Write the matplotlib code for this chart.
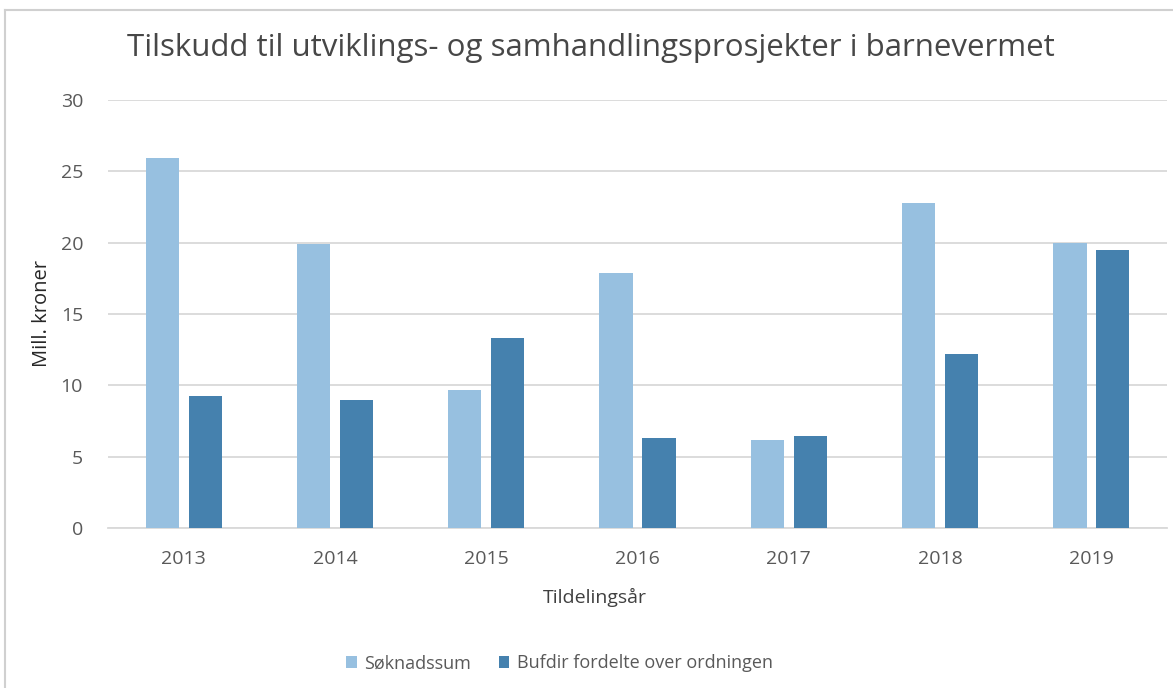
import matplotlib
matplotlib.use("Agg")
import matplotlib.pyplot as plt
import numpy as np

years = ["2013", "2014", "2015", "2016", "2017", "2018", "2019"]
soknadssum = [25.9, 19.9, 9.7, 17.9, 6.2, 22.8, 19.95]
bufdir = [9.25, 9.0, 13.3, 6.3, 6.45, 12.2, 19.45]

light = "#97c0e0"
dark = "#4581ae"
grey_txt = "#595959"

plt.rcParams["font.family"] = ["Open Sans", "DejaVu Sans"]

fig = plt.figure(figsize=(11.73, 6.88), dpi=100)
ax = fig.add_axes([0.0921, 0.2326, 0.9028, 0.6221])

x = np.arange(len(years))
w = 0.22
off = 0.142
ax.bar(x - off, soknadssum, w, color=light, label="Søknadssum", zorder=3)
ax.bar(x + off, bufdir, w, color=dark, label="Bufdir fordelte over ordningen", zorder=3)

ax.set_xlim(-0.5, 6.5)
ax.set_ylim(0, 30)
ax.set_yticks(range(0, 31, 5))
ax.set_xticks(x)
ax.set_xticklabels(years)
ax.yaxis.grid(True, color="#d9d9d9", linewidth=1.3, zorder=0)
for s in ["top", "right", "left"]:
    ax.spines[s].set_visible(False)
ax.spines["bottom"].set_color("#d9d9d9")
ax.spines["bottom"].set_linewidth(1.3)
ax.tick_params(axis="both", length=0, labelsize=14, labelcolor=grey_txt)
ax.tick_params(axis="x", pad=16)
ax.tick_params(axis="y", pad=18)

ax.set_ylabel("Mill. kroner", fontsize=14.5, color="#262626", labelpad=6)
fig.text(0.507, 1 - 597 / 688, "Tildelingsår", ha="center", va="center",
         fontsize=14, color="#404040")

fig.text(0.504, 0.93, "Tilskudd til utviklings- og samhandlingsprosjekter i barnevermet",
         ha="center", va="center", fontsize=22.5, color="#474747")

leg = fig.legend(loc="center", bbox_to_anchor=(0.477, 0.036), ncol=2, frameon=False,
                 fontsize=13, handlelength=0.6, handleheight=0.6, columnspacing=1.5,
                 handletextpad=0.4, labelcolor=grey_txt)

# outer chart border (only left and top visible in the crop)
fig.add_artist(plt.Line2D([0.0045, 0.0045], [0, 0.985], transform=fig.transFigure,
                          color="#d0d0d0", linewidth=1.5))
fig.add_artist(plt.Line2D([0.0045, 1], [0.985, 0.985], transform=fig.transFigure,
                          color="#d0d0d0", linewidth=1.5))

fig.savefig("out.png", dpi=100)
